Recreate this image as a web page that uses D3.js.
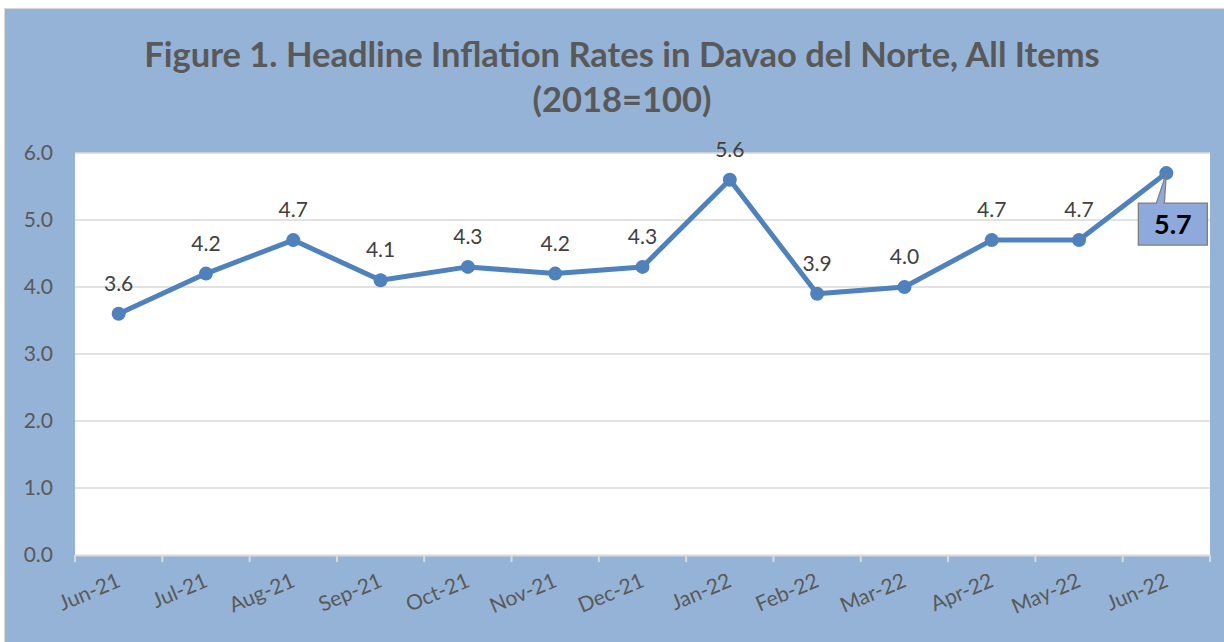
<!DOCTYPE html>
<html>
<head>
<meta charset="utf-8">
<script src="https://cdn.jsdelivr.net/npm/d3@7"></script>
<style>
  body { margin: 0; background: #fff; }
  text { font-family: Lato, "Open Sans", sans-serif; }
</style>
</head>
<body>
<script>
var months = ["Jun-21", "Jul-21", "Aug-21", "Sep-21", "Oct-21", "Nov-21", "Dec-21",
    "Jan-22", "Feb-22", "Mar-22", "Apr-22", "May-22", "Jun-22"];
var rates = [3.6, 4.2, 4.7, 4.1, 4.3, 4.2, 4.3, 5.6, 3.9, 4.0, 4.7, 4.7, 5.7];
var yTicks = [0, 1, 2, 3, 4, 5, 6];

var W = 1224, H = 642;
var margin = { top: 153, right: 14, bottom: 87, left: 75 },
    width = W - margin.left - margin.right,
    height = H - margin.top - margin.bottom;

var svg = d3.select("body").append("svg")
    .attr("width", W)
    .attr("height", H);

// chart background + frame
svg.append("rect")
    .attr("x", 4.5).attr("y", 8.5)
    .attr("width", W).attr("height", H)
    .attr("fill", "#95B3D7")
    .attr("stroke", "#D9D9D9");

svg.append("text")
    .attr("x", 622).attr("y", 67)
    .attr("text-anchor", "middle")
    .style("font-size", "34.5px").style("font-weight", "bold")
    .style("fill", "#595959")
    .text("Figure 1. Headline Inflation Rates in Davao del Norte, All Items");
svg.append("text")
    .attr("x", 622).attr("y", 112)
    .attr("text-anchor", "middle")
    .style("font-size", "34.5px").style("font-weight", "bold")
    .style("fill", "#595959")
    .text("(2018=100)");

var g = svg.append("g")
    .attr("transform", "translate(" + margin.left + "," + margin.top + ")");

g.append("rect")
    .attr("width", width).attr("height", height)
    .attr("fill", "#fff");

var x = d3.scaleBand().domain(months).range([0, width]);
var y = d3.scaleLinear().domain([0, 6]).range([height, 0]);

// gridlines
g.selectAll(".grid")
    .data(yTicks.slice(1))
    .enter().append("line")
    .attr("x1", 0).attr("x2", width)
    .attr("y1", function (d) { return y(d); })
    .attr("y2", function (d) { return y(d); })
    .attr("stroke", "#D9D9D9").attr("stroke-width", 1.3);

// y axis labels
g.selectAll(".ylab")
    .data(yTicks)
    .enter().append("text")
    .attr("x", -22)
    .attr("y", function (d) { return y(d); })
    .attr("dy", "0.35em")
    .attr("text-anchor", "end")
    .style("font-size", "21px").style("fill", "#595959")
    .text(function (d) { return d.toFixed(1); });

// x axis
var xAxis = g.append("g")
    .attr("transform", "translate(0," + height + ")")
    .call(d3.axisBottom(x).tickSize(0).tickFormat(""));
xAxis.select(".domain").attr("stroke", "#D9D9D9").attr("stroke-width", 2);

var tickPos = months.map(function (m) { return x(m); }).concat([width]);
xAxis.selectAll(".tk")
    .data(tickPos)
    .enter().append("line")
    .attr("x1", function (d) { return d; })
    .attr("x2", function (d) { return d; })
    .attr("y1", 0).attr("y2", 7)
    .attr("stroke", "#D9D9D9").attr("stroke-width", 2);

g.selectAll(".xlab")
    .data(months)
    .enter().append("text")
    .attr("transform", function (d) {
        return "translate(" + (x(d) + x.bandwidth() / 2 + 3) + "," + (height + 31) + ") rotate(-23)";
    })
    .attr("text-anchor", "end")
    .style("font-size", "21px").style("fill", "#595959")
    .text(function (d) { return d; });

// line
var cx = function (d, i) { return x(months[i]) + x.bandwidth() / 2; };
var line = d3.line()
    .x(cx)
    .y(function (d) { return y(d); });

g.append("path")
    .datum(rates)
    .attr("d", line)
    .attr("fill", "none")
    .attr("stroke", "#4F81BD")
    .attr("stroke-width", 5)
    .attr("stroke-linejoin", "round");

g.selectAll(".dot")
    .data(rates)
    .enter().append("circle")
    .attr("cx", cx)
    .attr("cy", function (d) { return y(d); })
    .attr("r", 7)
    .attr("fill", "#4F81BD");

// data labels (all but last)
var last = rates.length - 1;
g.selectAll(".dlab")
    .data(rates.slice(0, last))
    .enter().append("text")
    .attr("x", cx)
    .attr("y", function (d) { return y(d) - 23; })
    .attr("text-anchor", "middle")
    .style("font-size", "21px").style("fill", "#404040")
    .text(function (d) { return d.toFixed(1); });

// callout for latest value
var px = cx(rates[last], last), py = y(rates[last]);
var bx = px - 28, by = py + 30, bw = 69, bh = 42;
g.append("path")
    .attr("d", "M" + bx + "," + by +
        " L" + (px - 10) + "," + by +
        " L" + px + "," + py +
        " L" + (px - 2) + "," + by +
        " L" + (bx + bw) + "," + by +
        " L" + (bx + bw) + "," + (by + bh) +
        " L" + bx + "," + (by + bh) + " Z")
    .attr("fill", "#8EA9DB")
    .attr("stroke", "#7F7F7F")
    .attr("stroke-width", 1.3);
g.append("text")
    .attr("x", bx + bw / 2)
    .attr("y", by + bh / 2)
    .attr("dy", "0.36em")
    .attr("text-anchor", "middle")
    .style("font-size", "27px").style("font-weight", "bold")
    .style("fill", "#000")
    .text(rates[last].toFixed(1));
</script>
</body>
</html>
